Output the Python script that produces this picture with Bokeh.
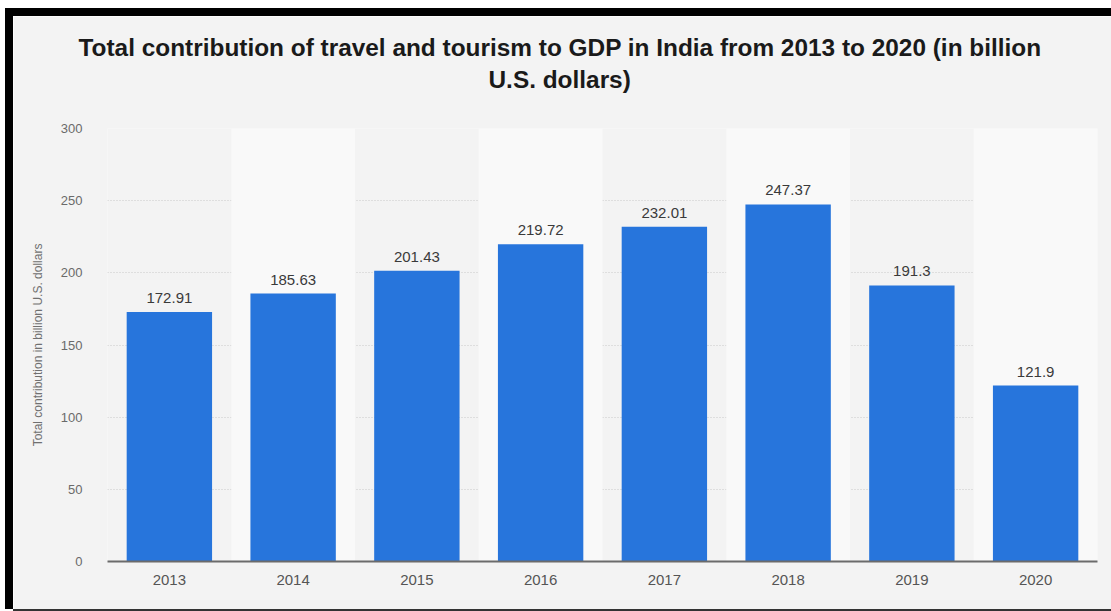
from bokeh.plotting import figure
from bokeh.models import Range1d, FactorRange, FixedTicker, Title, ColumnDataSource
from bokeh.core.properties import value
from bokeh.embed import file_html
from bokeh.resources import INLINE

years = ["2013", "2014", "2015", "2016", "2017", "2018", "2019", "2020"]
contribution = [172.91, 185.63, 201.43, 219.72, 232.01, 247.37, 191.3, 121.9]
value_labels = ["172.91", "185.63", "201.43", "219.72", "232.01", "247.37", "191.3", "121.9"]
y_ticks = [0, 50, 100, 150, 200, 250, 300]
title_line1 = "Total contribution of travel and tourism to GDP in India from 2013 to 2020 (in billion"
title_line2 = "U.S. dollars)"
y_label = "Total contribution in billion U.S. dollars"

FONT = "Liberation Sans"

p = figure(
    width=1098, height=593,
    x_range=FactorRange(*years, range_padding=0),
    y_range=Range1d(0, 300),
    output_backend="svg", toolbar_location=None,
    min_border_left=94, min_border_right=14, min_border_top=112, min_border_bottom=48,
    background_fill_color="#f3f3f3", border_fill_color="#f3f3f3",
    outline_line_color=None,
    styles={"margin-top": "16px", "margin-left": "13px",
            "box-shadow": "-4px -4px 0 4px #000, 0 2px 0 0 #333"},
)

# spacer between frame and title (closest panel), then line 2, then line 1 (p.title, outermost)
p.add_layout(Title(text=" ", standoff=22, text_font=FONT, text_font_size="10px"), "above")
p.add_layout(Title(text=title_line2, align="left", offset=381, standoff=2,
                   text_font=FONT, text_font_size="24.4px", text_font_style="bold",
                   text_color="#1a1a1a"), "above")
p.title.text = title_line1
p.title.align = "left"
p.title.offset = -29
p.title.standoff = 4
p.title.text_font = FONT
p.title.text_font_size = "24.4px"
p.title.text_font_style = "bold"
p.title.text_color = "#1a1a1a"

# alternating column bands
band_src = ColumnDataSource(dict(x=years[1::2], top=[300] * len(years[1::2])))
p.vbar(x="x", top="top", bottom=0, width=1.0, source=band_src,
       fill_color="#f9f9f9", line_color=None)

src = ColumnDataSource(dict(x=years, top=contribution, lab=value_labels))
p.vbar(x="x", top="top", width=0.69, source=src, fill_color="#2775dc", line_color=None)
p.text(x="x", y="top", text="lab", source=src, text_align="center",
       text_baseline="alphabetic", y_offset=-14, text_font=value(FONT),
       text_font_size="15px", text_color="#3a3a3a")

# grid
p.xgrid.grid_line_color = None
p.ygrid.ticker = FixedTicker(ticks=y_ticks)
p.ygrid.grid_line_color = "#c8c8c8"
p.ygrid.grid_line_dash = "1 2"
p.ygrid.grid_line_width = 1

# y axis
p.yaxis.ticker = FixedTicker(ticks=y_ticks)
p.yaxis.axis_line_color = None
p.yaxis.major_tick_line_color = None
p.yaxis.minor_tick_line_color = None
p.yaxis.major_label_standoff = 19
p.yaxis.major_label_text_font = FONT
p.yaxis.major_label_text_font_size = "13px"
p.yaxis.major_label_text_color = "#6a6a6a"
p.yaxis.axis_label = y_label
p.yaxis.axis_label_text_font = FONT
p.yaxis.axis_label_text_font_size = "12px"
p.yaxis.axis_label_text_font_style = "normal"
p.yaxis.axis_label_text_color = "#707070"
p.yaxis.axis_label_standoff = 13

# x axis
p.xaxis.axis_line_color = "#6b6b6b"
p.xaxis.axis_line_width = 2
p.xaxis.major_tick_line_color = None
p.xaxis.minor_tick_line_color = None
p.xaxis.major_label_standoff = 7
p.xaxis.major_label_text_font = FONT
p.xaxis.major_label_text_font_size = "15px"
p.xaxis.major_label_text_color = "#555555"

open("out.html", "w").write(file_html(p, INLINE))
